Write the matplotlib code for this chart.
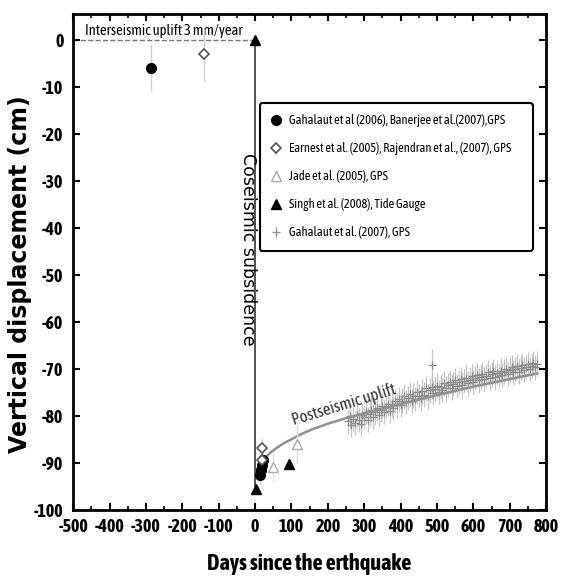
import numpy as np
import matplotlib.pyplot as plt
from matplotlib import font_manager
from matplotlib.ticker import MultipleLocator

# pick a narrow family if one is installed, prefer one with a bold face
fonts = font_manager.fontManager.ttflist
narrow = [f for f in fonts if 'Narrow' in f.name or 'Condensed' in f.name]
bold_narrow = [f.name for f in narrow if f.weight in (700, 'bold')]
if bold_narrow:
    plt.rcParams['font.family'] = [bold_narrow[0], 'DejaVu Sans']
elif narrow:
    plt.rcParams['font.family'] = [narrow[0].name, 'DejaVu Sans']
else:
    plt.rcParams['font.family'] = ['DejaVu Sans']
    plt.rcParams['font.stretch'] = 'condensed'
plt.rcParams['axes.unicode_minus'] = False

# Gahalaut et al (2006), Banerjee et al (2007) - filled circles
gah_days = [-285, 14, 17, 19, 21]
gah_vals = [-6, -92.5, -91.5, -90.5, -89.5]
gah_err = [5, 2, 2, 2, 2]

# Earnest / Rajendran - open diamonds
ear_days = [-140, 20, 18]
ear_vals = [-3, -86.8, -89.5]
ear_err = [6, 2, 2]

# Jade et al (2005) - open triangles
jade_days = [48, 115]
jade_vals = [-91, -86]
jade_err = [3, 4]

# Singh et al (2008) tide gauge - filled triangles
singh_days = [0, 3, 92]
singh_vals = [0, -95.5, -90.2]

# postseismic fit curve
fit_days = [8, 12, 20, 40, 60, 80, 100, 130, 160, 200, 250, 300, 400, 500, 600, 700, 775]
fit_vals = [-92.0, -90.8, -89.6, -88.0, -86.8, -85.8, -85.0, -83.8, -82.8, -81.7, -80.5,
            -79.5, -77.5, -75.6, -73.8, -72.2, -71.0]

# Gahalaut et al (2007) GPS
gps_days = list(range(255, 780, 5)) + [486]
gps_vals = [-81.2, -80.1, -82.0, -80.6, -81.5, -79.8, -80.9, -81.8, -79.9, -80.3,
            -79.1, -80.8, -79.6, -78.7, -80.2, -79.3, -78.4, -79.9, -78.8, -77.9,
            -79.2, -78.1, -77.4, -78.9, -77.6, -78.3, -76.9, -77.8, -76.5, -77.7,
            -76.8, -75.9, -77.1, -76.2, -75.4, -76.9, -75.7, -76.4, -74.9, -75.8,
            -76.3, -74.8, -75.5, -74.2, -75.9, -74.6, -73.9, -75.1, -74.3, -73.6,
            -74.9, -73.8, -74.5, -73.1, -74.2, -73.5, -72.8, -74.0, -73.2, -72.5,
            -73.7, -72.9, -72.2, -73.4, -72.6, -71.9, -73.1, -72.3, -71.6, -72.8,
            -72.0, -71.3, -72.5, -71.8, -71.1, -72.2, -71.5, -70.8, -71.9, -71.2,
            -70.5, -71.7, -70.9, -71.6, -70.4, -71.3, -70.6, -70.0, -71.1, -70.3,
            -69.7, -70.8, -70.1, -69.5, -70.6, -69.8, -69.2, -70.3, -69.6, -69.0,
            -70.1, -69.4, -68.8, -69.7, -68.9, -69.2]
gps_err = [2.6] * (len(gps_vals) - 1) + [3.5]

legend_labels = ['Gahalaut et al (2006), Banerjee et al.(2007),GPS',
                 'Earnest et al. (2005), Rajendran et al., (2007), GPS',
                 'Jade et al. (2005), GPS',
                 'Singh et al. (2008), Tide Gauge',
                 'Gahalaut et al. (2007), GPS']

fig = plt.figure(figsize=(5.63, 5.76), dpi=100)
ax = fig.add_axes([0.13, 0.115, 0.84, 0.861])

h_gps = ax.errorbar(gps_days, gps_vals, yerr=gps_err, fmt='+', color='#8c8c8c', ecolor='#c4c4c4',
                    elinewidth=0.9, markersize=6, mew=0.9, zorder=2)

ax.plot(fit_days, fit_vals, color='#909090', lw=1.8, zorder=3)

ax.plot([-500, 0], [0, 0], ls='--', color='#777777', lw=1.0, zorder=1)
ax.plot([0, 0], [0, -95], color='#444444', lw=1.3, zorder=1)

h_gah = ax.errorbar(gah_days, gah_vals, yerr=gah_err, fmt='o', color='black', ecolor='#d0d0d0',
                    markersize=7, elinewidth=1, zorder=5)
h_ear = ax.errorbar(ear_days, ear_vals, yerr=ear_err, fmt='D', mfc='white', mec='#555555', mew=1.2,
                    ecolor='#d0d0d0', markersize=5, elinewidth=1, zorder=5)
h_jade = ax.errorbar(jade_days, jade_vals, yerr=jade_err, fmt='^', mfc='white', mec='#aaaaaa',
                     mew=1.0, ecolor='#dddddd', markersize=7, elinewidth=1, zorder=4)
h_singh, = ax.plot(singh_days, singh_vals, '^', color='black', markersize=7, zorder=6)

ax.text(-250, 0.4, 'Interseismic uplift 3 mm/year', ha='center', va='bottom', fontsize=10.5,
        fontweight='normal')
ax.text(-19, -44.5, 'Coseismic subsidence', rotation=270, ha='center', va='center', fontsize=12.5,
        family='DejaVu Sans')
ax.text(245, -77.7, 'Postseismic uplift', rotation=17, ha='center', va='center', fontsize=12,
        color='#333333')

ax.set_xlim(-500, 800)
ax.set_ylim(-100, 5.5)
ax.xaxis.set_major_locator(MultipleLocator(100))
ax.xaxis.set_minor_locator(MultipleLocator(50))
ax.yaxis.set_major_locator(MultipleLocator(10))
ax.tick_params(which='both', direction='in', top=True, right=True, labelsize=13)
ax.tick_params(which='major', length=5, width=1.5)
ax.tick_params(which='minor', length=3, width=1.2)
ax.tick_params(axis='x', pad=6)
ax.tick_params(axis='y', pad=7)
for sp in ax.spines.values():
    sp.set_linewidth(2)

ax.set_xlabel('Days since the erthquake', fontsize=16, fontweight='bold', labelpad=12)
ax.set_ylabel('Vertical displacement (cm)', fontsize=17, fontweight='bold',
              family='DejaVu Sans')
ax.yaxis.set_label_coords(-0.088, 0.475)

leg = ax.legend([h_gah, h_ear, h_jade, h_singh, h_gps], legend_labels,
                loc='upper left', bbox_to_anchor=(0.395, 0.534, 0.577, 0.286), mode='expand',
                fontsize=9, fancybox=True, framealpha=1, edgecolor='black', handlelength=0.8,
                handletextpad=0.6, labelspacing=1.2, borderpad=0.9, borderaxespad=0)
leg.get_frame().set_linewidth(1.5)

fig.canvas.draw()
for lab in ax.get_xticklabels() + ax.get_yticklabels():
    lab.set_fontweight('bold')

fig.savefig('out.png', dpi=100)
